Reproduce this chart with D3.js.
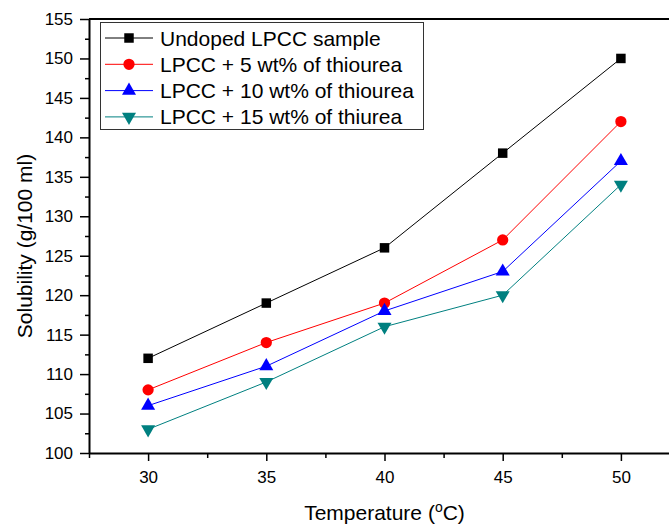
<!DOCTYPE html>
<html>
<head>
<meta charset="utf-8">
<script src="https://cdn.jsdelivr.net/npm/d3@7"></script>
<style>
  body { margin: 0; background: #fff; }
  svg { display: block; font-family: "Liberation Sans", Arial, sans-serif; }
</style>
</head>
<body>
<script>
var temperatures = [30, 35, 40, 45, 50];
var undoped = [112, 119, 126, 138, 150];
var thiourea5 = [108, 114, 119, 127, 142];
var thiourea10 = [106, 111, 118, 123, 137];
var thiourea15 = [103, 109, 116, 120, 134];
var seriesNames = ["Undoped LPCC sample", "LPCC + 5 wt% of thiourea", "LPCC + 10 wt% of thiourea", "LPCC + 15 wt% of thiurea"];
var xTicks = [30, 35, 40, 45, 50];
var yTicks = [100, 105, 110, 115, 120, 125, 130, 135, 140, 145, 150, 155];

var width = 669, height = 527;
var margin = { left: 89, top: 19 };
var plotRight = 680, plotBottom = 453;

var series = [
  { name: seriesNames[0], values: undoped, color: "#000000", symbol: d3.symbolSquare, size: 90, rot: 0 },
  { name: seriesNames[1], values: thiourea5, color: "#ff0000", symbol: d3.symbolCircle, size: 100, rot: 0 },
  { name: seriesNames[2], values: thiourea10, color: "#0000ff", symbol: d3.symbolTriangle, size: 85, rot: 0 },
  { name: seriesNames[3], values: thiourea15, color: "#008080", symbol: d3.symbolTriangle, size: 85, rot: 180 }
];

var svg = d3.select("body").append("svg")
    .attr("width", width)
    .attr("height", height);

var x = d3.scaleLinear().domain([27.5, 52.5]).range([margin.left, plotRight]);
var y = d3.scaleLinear().domain([100, 155]).range([plotBottom, margin.top]);

// minor ticks
var xMinor = d3.range(27.5, 52.6, 2.5).filter(function(v) { return v % 5 !== 0; });
var yMinor = d3.range(102.5, 155, 5);

svg.append("g")
    .attr("transform", "translate(0," + plotBottom + ")")
    .call(d3.axisBottom(x).tickValues(xMinor).tickSize(5).tickFormat(""))
    .call(function(g) { g.select(".domain").remove(); g.selectAll("line").attr("stroke-width", 1.5); });

svg.append("g")
    .attr("transform", "translate(" + margin.left + ",0)")
    .call(d3.axisLeft(y).tickValues(yMinor).tickSize(4).tickFormat(""))
    .call(function(g) { g.select(".domain").remove(); g.selectAll("line").attr("stroke-width", 1.5); });

// major axes
var xAxis = svg.append("g")
    .attr("transform", "translate(0," + plotBottom + ")")
    .call(d3.axisBottom(x).tickValues(xTicks).tickSize(8).tickSizeOuter(0).tickPadding(10));
xAxis.select(".domain").attr("stroke-width", 2);
xAxis.selectAll("line").attr("stroke-width", 1.5);
xAxis.selectAll("text").attr("font-size", 17).attr("fill", "#000");

var yAxis = svg.append("g")
    .attr("transform", "translate(" + margin.left + ",0)")
    .call(d3.axisLeft(y).tickValues(yTicks).tickSize(9).tickSizeOuter(0).tickPadding(7));
yAxis.select(".domain").attr("stroke-width", 2);
yAxis.selectAll("line").attr("stroke-width", 1.5);
yAxis.selectAll("text").attr("font-size", 17).attr("fill", "#000");

// top and right frame
svg.append("line")
    .attr("x1", margin.left).attr("x2", plotRight)
    .attr("y1", margin.top).attr("y2", margin.top)
    .attr("stroke", "#000").attr("stroke-width", 2);
svg.append("line")
    .attr("x1", plotRight).attr("x2", plotRight)
    .attr("y1", margin.top).attr("y2", plotBottom)
    .attr("stroke", "#000").attr("stroke-width", 2);

// lines and markers
var line = d3.line()
    .x(function(d, i) { return x(temperatures[i]); })
    .y(function(d) { return y(d); });

series.forEach(function(s) {
  svg.append("path")
      .datum(s.values)
      .attr("d", line)
      .attr("fill", "none")
      .attr("stroke", s.color)
      .attr("stroke-width", 1);

  svg.selectAll(null)
      .data(s.values)
      .enter().append("path")
      .attr("d", d3.symbol().type(s.symbol).size(s.size))
      .attr("transform", function(d, i) {
        return "translate(" + x(temperatures[i]) + "," + y(d) + ") rotate(" + s.rot + ")";
      })
      .attr("fill", s.color);
});

// legend
var legend = svg.append("g");
legend.append("rect")
    .attr("x", 100.5).attr("y", 22.5)
    .attr("width", 323).attr("height", 107)
    .attr("fill", "#fff")
    .attr("stroke", "#333").attr("stroke-width", 1);

series.forEach(function(s, i) {
  var ly = 38 + i * 26.3;
  legend.append("line")
      .attr("x1", 105).attr("x2", 153)
      .attr("y1", ly).attr("y2", ly)
      .attr("stroke", s.color).attr("stroke-width", 1);
  legend.append("path")
      .attr("d", d3.symbol().type(s.symbol).size(s.size))
      .attr("transform", "translate(129," + ly + ") rotate(" + s.rot + ")")
      .attr("fill", s.color);
  legend.append("text")
      .attr("x", 160).attr("y", ly + 7.5)
      .attr("font-size", 21)
      .text(s.name);
});

// axis titles
var xt = svg.append("text")
    .attr("x", (margin.left + plotRight) / 2).attr("y", 520)
    .attr("text-anchor", "middle")
    .attr("font-size", 21);
xt.append("tspan").text("Temperature (");
xt.append("tspan").attr("font-size", 14).attr("dy", -8).text("o");
xt.append("tspan").attr("dy", 8).text("C)");

svg.append("text")
    .attr("transform", "translate(32,246) rotate(-90)")
    .attr("text-anchor", "middle")
    .attr("font-size", 21)
    .text("Solubility (g/100 ml)");
</script>
</body>
</html>
